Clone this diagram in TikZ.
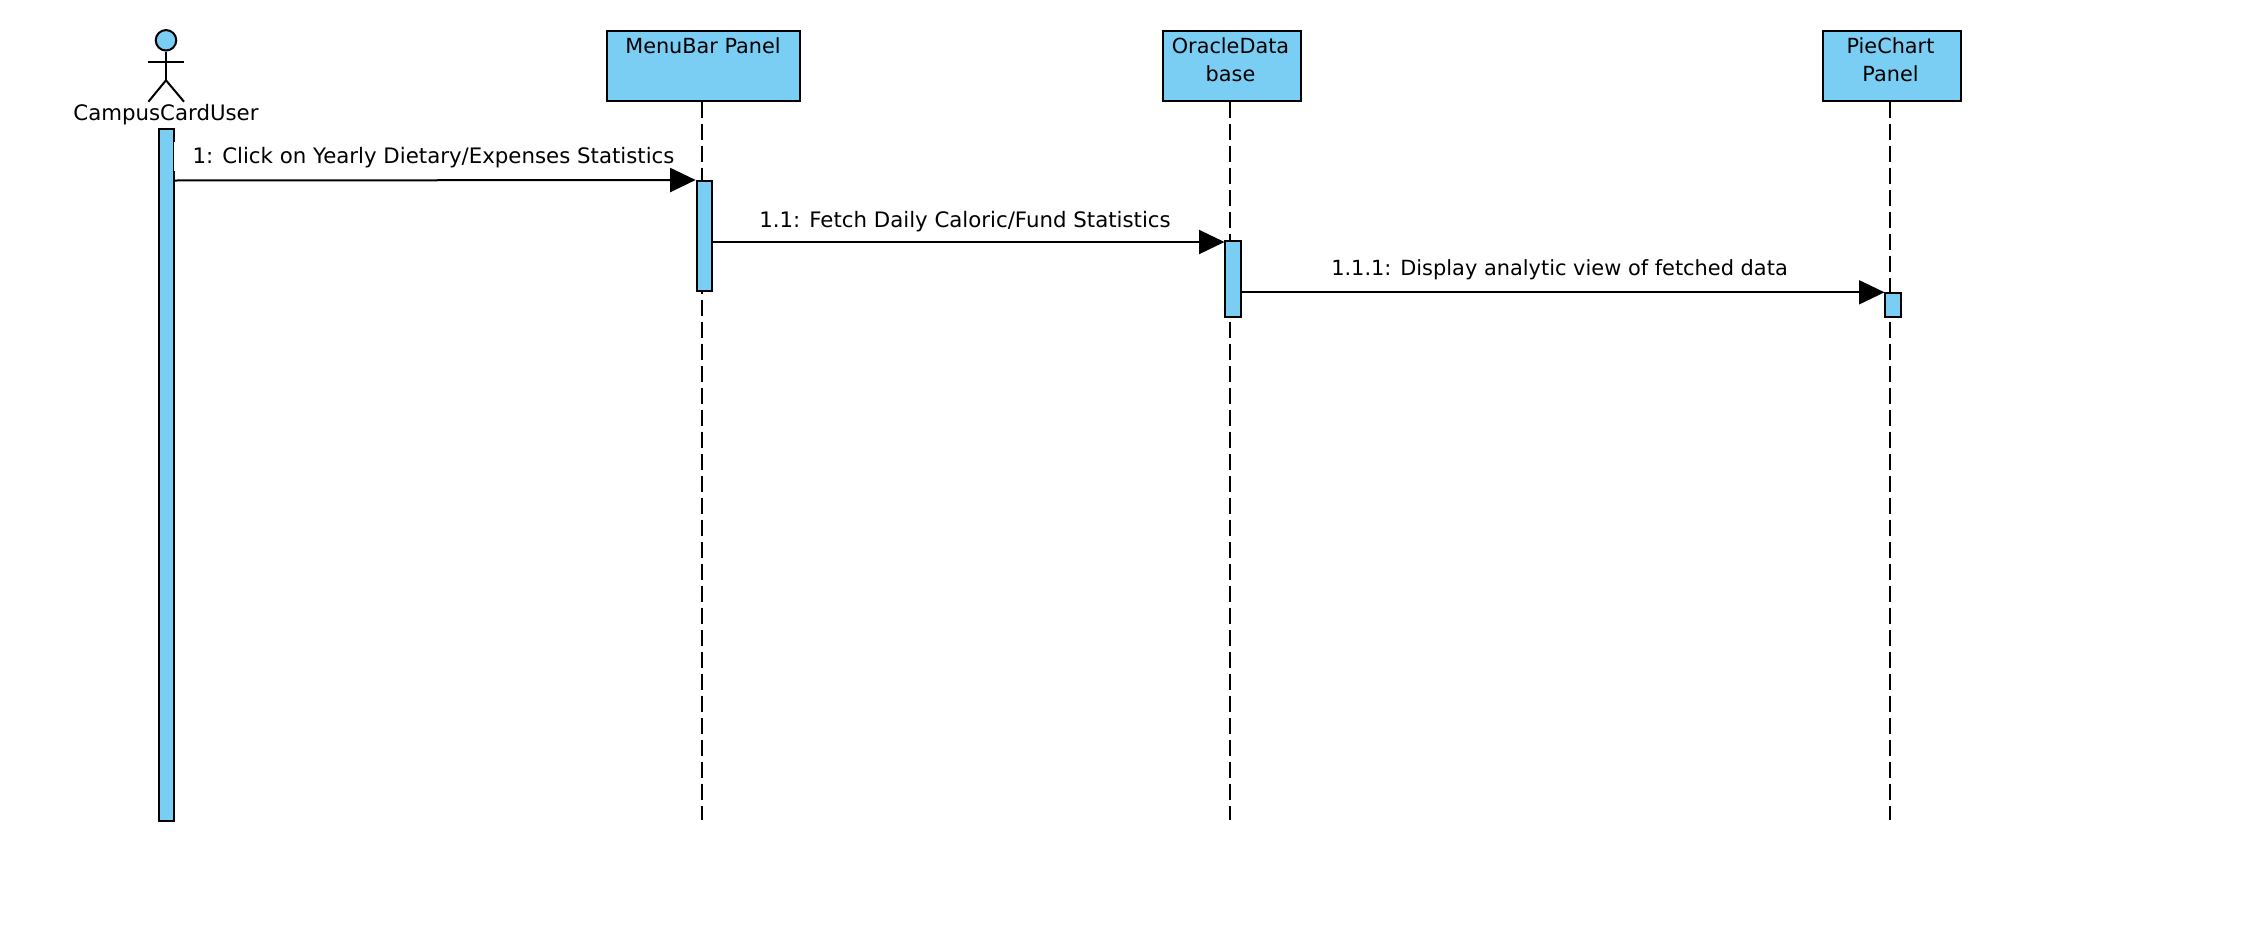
\documentclass[tikz,border=0pt]{standalone}
\usepackage{fontspec}
\setmainfont{DejaVu Sans}
\definecolor{umlblue}{HTML}{7ACEF4}
\usetikzlibrary{arrows.meta}
\tikzset{
  x=1pt,y=-1pt,
  lbl/.style={font=\fontsize{21.3}{26}\selectfont,inner sep=0pt,text=black},
  lblhead/.style={font=\fontsize{20.8}{26}\selectfont,inner sep=0pt,text=black},
  lblthree/.style={font=\fontsize{20.9}{26}\selectfont,inner sep=0pt,text=black},
  head/.style={draw=black,fill=umlblue,line width=2pt,minimum width=138pt,minimum height=70pt,inner sep=0pt,anchor=north west},
  bar/.style={draw=black,fill=umlblue,line width=2pt,inner sep=0pt,minimum width=15.5pt,anchor=north west},
  life/.style={draw=black,line width=2pt,dash pattern=on 16pt off 6pt},
  msg/.style={draw=black,line width=2pt,-{Triangle[length=25.5pt,width=24pt]}},
  limb/.style={draw=black,line width=2pt}
}
\begin{document}
\begin{tikzpicture}
\useasboundingbox (0,0) rectangle (2244,926);
% lifeline heads
\node[head,minimum width=193pt] (menu) at (606,29.5) {};
\node[head] (oracle) at (1162,29.5) {};
\node[head] (pie) at (1822,29.5) {};
\node[lblhead] (menut) at (703,45.5) {MenuBar Panel};
\node[lblhead] (oraclet1) at (1230.5,45.5) {OracleData};
\node[lblhead] (oraclet2) at (1230.5,73.5) {base};
\node[lblhead] (piet1) at (1890.5,45.5) {PieChart};
\node[lblhead] (piet2) at (1890.5,73.5) {Panel};
% lifeline ends
\coordinate (menuend) at (702.3,820);
\coordinate (oracleend) at (1230.3,820);
\coordinate (pieend) at (1890.3,820);
\draw[life] (menu.south -| menuend) -- (menuend);
\draw[life] (oracle.south -| oracleend) -- (oracleend);
\draw[life] (pie.south -| pieend) -- (pieend);
% activations
\node[bar,minimum height=692pt] (a0) at (157.5,128) {};
\node[bar,minimum height=110pt] (a1) at (695.7,180) {};
\node[bar,minimum height=76pt] (a2) at (1224,240) {};
\node[bar,minimum height=24pt] (a3) at (1884.2,292) {};
% actor
\node[draw=black,fill=umlblue,line width=2pt,circle,minimum size=20.5pt,inner sep=0pt] (actorhead) at (166,40.3) {};
\coordinate (hip) at (166,80.3);
\coordinate (armL) at (148.4,62.3);
\coordinate (armR) at (184,62.3);
\coordinate (footL) at (148.4,101.7);
\coordinate (footR) at (184,101.7);
\draw[limb] (actorhead.south) -- (hip);
\draw[limb] (armL) -- (armR);
\draw[limb] (footL) -- (hip) -- (footR);
\node[lbl] (actort) at (166,115) {CampusCardUser};
% label background, as in the reference it cuts the actor bar's right edge
\node[fill=white,inner sep=0pt,minimum width=502pt,minimum height=29pt,anchor=north west] (m1bg) at (173.3,142) {};
% messages
\coordinate (m1s) at (175,180.5);
\coordinate (m2e) at (1224.5,242);
\coordinate (m3e) at (1884.5,292.3);
\draw[msg] (m1s) -- (a1.north west);
\draw[msg] (a1.east |- m2e) -- (m2e);
\draw[msg] (a2.east |- m3e) -- (m3e);
\node[lbl] (m1t) at (433.5,158) {1: Click on Yearly Dietary/Expenses Statistics};
\node[lbl] (m2t) at (965,221.5) {1.1: Fetch Daily Caloric/Fund Statistics};
\node[lblthree] (m3t) at (1559.5,269.5) {1.1.1: Display analytic view of fetched data};
\end{tikzpicture}
\end{document}
